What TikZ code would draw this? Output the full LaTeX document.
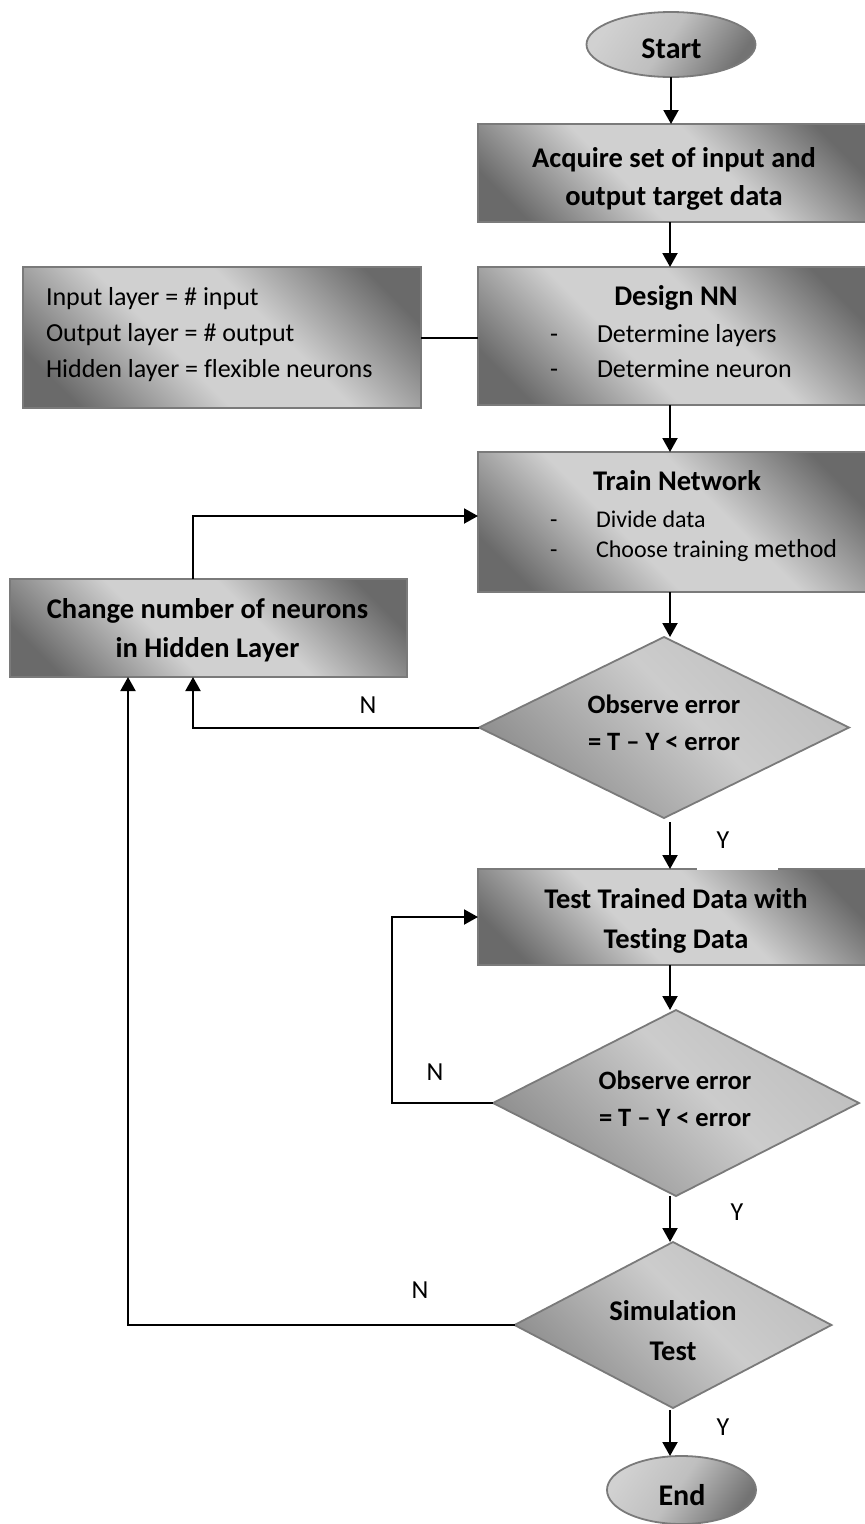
\documentclass[tikz,border=0pt]{standalone}
\usepackage{fontspec}
\setmainfont{Carlito}[Ligatures=NoCommon]
\usetikzlibrary{shapes.geometric, arrows.meta}

\definecolor{sdark}{HTML}{6A6A6A}
\definecolor{slight}{HTML}{D0D0D0}
\definecolor{edge}{HTML}{7A7A7A}

% grey sheen used by the process boxes
\pgfdeclarehorizontalshading{steel}{100bp}{color(0bp)=(sdark); color(22bp)=(sdark); color(42bp)=(slight); color(58bp)=(slight); color(78bp)=(sdark); color(100bp)=(sdark)}
% softer sheen for decisions
\pgfdeclarehorizontalshading{stone}{100bp}{color(0bp)=(black!45); color(25bp)=(black!45); color(55bp)=(black!20); color(75bp)=(black!25); color(100bp)=(black!25)}
% terminators
\pgfdeclarehorizontalshading{knob}{100bp}{color(0bp)=(black!18); color(25bp)=(black!18); color(48bp)=(black!25); color(75bp)=(black!55); color(100bp)=(black!55)}

\tikzset{
  x=1pt, y=-1pt,
  every node/.style={inner sep=0pt, outer sep=0pt},
  flowbox/.style={rectangle, draw=edge, line width=1.8pt, shading=steel, shading angle=45},
  flowdec/.style={diamond, draw=edge, line width=1.8pt, shading=stone, shading angle=45},
  flowterm/.style={ellipse, draw=edge, line width=1.8pt, shading=knob, shading angle=-35},
  hdtext/.style={anchor=base, font=\fontsize{28.5}{34}\selectfont\bfseries},
  dectext/.style={anchor=base, font=\fontsize{26.5}{32}\selectfont\bfseries},
  itemtext/.style={anchor=base west, font=\fontsize{26}{32}\selectfont},
  smalltext/.style={anchor=base west, font=\fontsize{24}{30}\selectfont},
  yn/.style={anchor=base, font=\fontsize{26}{32}\selectfont},
  arr/.style={line width=2pt, -{Triangle[length=14pt,width=15pt]}},
  wire/.style={line width=2pt},
}

\begin{document}
\begin{tikzpicture}
\useasboundingbox (0,0) rectangle (865,1524);

% ---------- shapes ----------
\node[flowterm, minimum width=169pt, minimum height=65pt] (start) at (671,44.5) {};
\node[flowbox, minimum width=388pt, minimum height=98pt] (acq) at (672,173) {};
\node[flowbox, minimum width=388pt, minimum height=138pt] (design) at (672,336) {};
\node[flowbox, minimum width=398pt, minimum height=141pt] (panel) at (222,337.5) {};
\node[flowbox, minimum width=388pt, minimum height=140pt] (train) at (672,522) {};
\node[flowbox, minimum width=397pt, minimum height=98pt] (change) at (208.5,628) {};
\node[flowdec, minimum width=370pt, minimum height=181pt] (d1) at (664,727.5) {};
\node[flowbox, minimum width=388pt, minimum height=96pt] (test) at (672,917) {};
\node[flowdec, minimum width=366pt, minimum height=186pt] (d2) at (676,1103) {};
\node[flowdec, minimum width=317pt, minimum height=166pt] (d3) at (673,1325) {};
\node[flowterm, minimum width=149pt, minimum height=68pt] (end) at (681.5,1490) {};

% ---------- texts ----------
\node[hdtext, font=\fontsize{30}{34}\selectfont\bfseries] (tstart) at (671.5,58) {Start};
\node[hdtext] (tacq1) at (674,167) {Acquire set of input and};
\node[hdtext] (tacq2) at (674,205) {output target data};

\node[hdtext] (tdes) at (676,305) {Design NN};
\node[itemtext] (tdesd1) at (550,342) {-};
\node[itemtext] (tdes1) at (597,342) {Determine layers};
\node[itemtext] (tdesd2) at (550,377) {-};
\node[itemtext] (tdes2) at (597,377) {Determine neuron};

\node[itemtext] (tpan1) at (46,305) {Input layer = \# input};
\node[itemtext] (tpan2) at (46,341) {Output layer = \# output};
\node[itemtext] (tpan3) at (46,377) {Hidden layer = flexible neurons};

\node[hdtext] (ttrain) at (677,490) {Train Network};
\node[smalltext] (ttrd1) at (550,527) {-};
\node[smalltext] (ttr1) at (596,527) {Divide data};
\node[smalltext] (ttrd2) at (550,557) {-};
\node[smalltext] (ttr2) at (596,557) {Choose training {\fontsize{26}{30}\selectfont method}};

\node[hdtext] (tch1) at (207.5,618) {Change number of neurons};
\node[hdtext] (tch2) at (207.5,657) {in Hidden Layer};

\node[dectext] (td11) at (664,713) {Observe error};
\node[dectext] (td12) at (664,750) {= T – Y < error};

\node[hdtext] (ttest1) at (676,908) {Test Trained Data with};
\node[hdtext] (ttest2) at (676,948) {Testing Data};

\node[dectext] (td21) at (675,1089) {Observe error};
\node[dectext] (td22) at (675,1126) {= T – Y < error};

\node[hdtext] (td31) at (673,1320) {Simulation};
\node[hdtext] (td32) at (673,1360) {Test};

\node[hdtext, font=\fontsize{30}{34}\selectfont\bfseries] (tend) at (682,1505) {End};

% ---------- connectors ----------
\coordinate (trunk) at (670,0);
\draw[arr] (start.south) -- (start.south |- acq.north);
\draw[arr] (acq.south -| trunk) -- (design.north -| trunk);
\draw[arr] (design.south -| trunk) -- (train.north -| trunk);
\draw[arr] (train.south -| trunk) -- (d1.north -| trunk);
\draw[arr] ([yshift=-4pt]d1.south -| trunk) -- (test.north -| trunk);
\draw[arr] (test.south -| trunk) -- (d2.north -| trunk);
\draw[arr] (d2.south -| trunk) -- (d3.north -| trunk);
\draw[arr] ([yshift=-2pt]d3.south -| trunk) -- (end.north -| trunk);

\draw[wire] (panel.east) -- (panel.east -| design.west);
\draw[arr] ([xshift=-15.5pt]change.north) |- ([yshift=6pt]train.west);
\draw[arr] (d1.west) -| ([xshift=-15.5pt]change.south);
\draw[arr] (d3.west) -| ([xshift=-80.5pt]change.south);
\draw[arr] (d2.west) -- ++(-101,0) |- (test.west);

% ---------- branch labels ----------
\node[yn] (n1) at (368,713) {N};
\node[yn, fill=white, anchor=base west, text height=26pt, text depth=22pt,
      text width=41.5pt, inner xsep=19.5pt, align=left] (y1) at (697,848) {Y};
\node[yn] (n2) at (435,1080) {N};
\node[yn] (y2) at (737,1220) {Y};
\node[yn] (n3) at (420,1298) {N};
\node[yn] (y3) at (723,1435) {Y};
\end{tikzpicture}
\end{document}
